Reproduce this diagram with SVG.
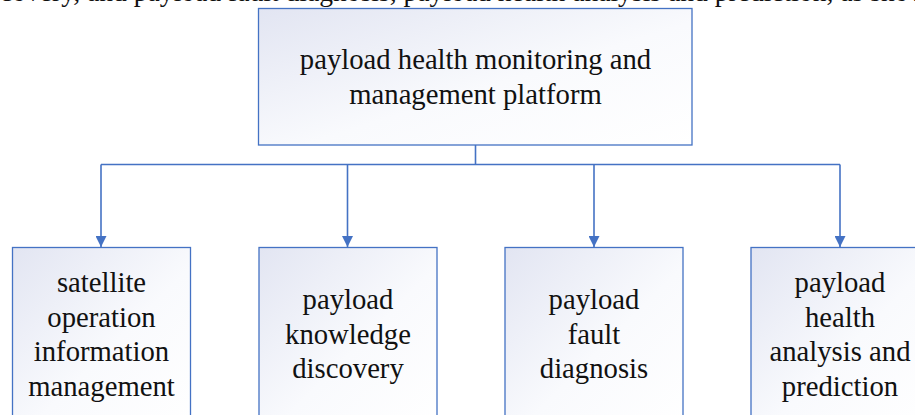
<svg xmlns="http://www.w3.org/2000/svg" width="915" height="415" viewBox="0 0 915 415">
  <defs>
    <linearGradient id="boxFill" x1="0" y1="0" x2="1" y2="1">
      <stop offset="0" stop-color="#e2e5f2"/>
      <stop offset="0.55" stop-color="#f9fafd"/>
      <stop offset="1" stop-color="#ffffff"/>
    </linearGradient>
    <marker id="arrow" viewBox="0 0 10 10" refX="10" refY="5" markerWidth="11" markerHeight="11" markerUnits="userSpaceOnUse" orient="auto">
      <path d="M0,0 L10,5 L0,10 Z" fill="#4472c4"/>
    </marker>
    <style>
      .box { fill: url(#boxFill); stroke: #4472c4; stroke-width: 1.3; }
      .label { font-family: "Liberation Serif", "Times New Roman", serif; font-size: 28.7px; fill: #111111; text-anchor: middle; }
      .body { font-family: "Liberation Serif", "Times New Roman", serif; font-size: 27.6px; fill: #111111; }
      .link { fill: none; stroke: #4472c4; stroke-width: 1.6; }
    </style>
  </defs>

  <rect width="915" height="415" fill="#ffffff"/>

  <!-- running text line above the figure, mostly outside the frame -->
  <text class="body" x="0" y="0.5">covery, and payload fault diagnosis, payload health analysis and prediction, as show</text>

  <g id="connectors">
    <path class="link" d="M475.5,145 V164.5"/>
    <path class="link" d="M101,164.5 H840"/>
    <path class="link" d="M101,164.5 V247" marker-end="url(#arrow)"/>
    <path class="link" d="M347.5,164.5 V247" marker-end="url(#arrow)"/>
    <path class="link" d="M594,164.5 V247" marker-end="url(#arrow)"/>
    <path class="link" d="M840,164.5 V247" marker-end="url(#arrow)"/>
  </g>

  <g id="platform">
    <rect class="box" x="258.5" y="8.5" width="433.5" height="136.5"/>
    <text class="label" x="475.5" y="69">payload health monitoring and</text>
    <text class="label" x="475.5" y="104">management platform</text>
  </g>

  <g id="satellite-operation">
    <rect class="box" x="12.5" y="247.5" width="178" height="180"/>
    <text class="label" x="101.5" y="292">satellite</text>
    <text class="label" x="101.5" y="326.5">operation</text>
    <text class="label" x="101.5" y="361">information</text>
    <text class="label" x="101.5" y="395.5">management</text>
  </g>

  <g id="knowledge-discovery">
    <rect class="box" x="259" y="247.5" width="178" height="180"/>
    <text class="label" x="348" y="309">payload</text>
    <text class="label" x="348" y="343.5">knowledge</text>
    <text class="label" x="348" y="378">discovery</text>
  </g>

  <g id="fault-diagnosis">
    <rect class="box" x="505" y="247.5" width="178" height="180"/>
    <text class="label" x="594" y="309">payload</text>
    <text class="label" x="594" y="343.5">fault</text>
    <text class="label" x="594" y="378">diagnosis</text>
  </g>

  <g id="health-prediction">
    <rect class="box" x="751" y="247.5" width="178" height="180"/>
    <text class="label" x="840" y="292">payload</text>
    <text class="label" x="840" y="326.5">health</text>
    <text class="label" x="840" y="361">analysis and</text>
    <text class="label" x="840" y="395.5">prediction</text>
  </g>
</svg>
